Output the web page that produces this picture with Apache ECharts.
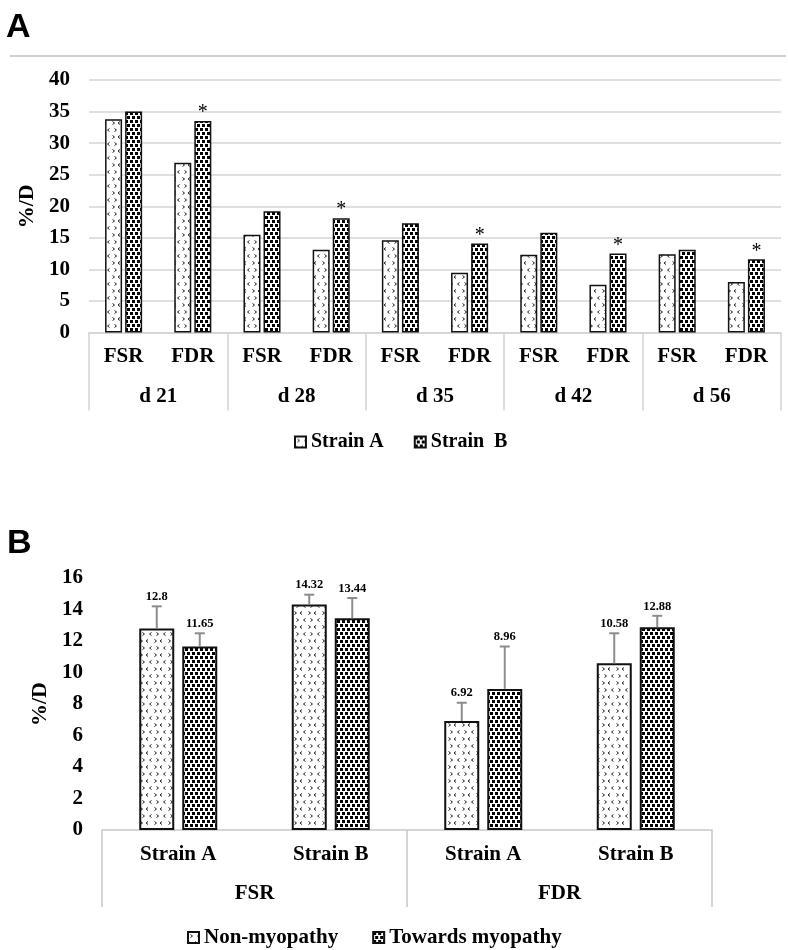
<!DOCTYPE html>
<html>
<head>
<meta charset="utf-8">
<script src="https://cdn.jsdelivr.net/npm/echarts@6/dist/echarts.min.js"></script>
<style>
html,body{margin:0;padding:0;background:#fff;}
#chart{width:788px;height:950px;}
</style>
</head>
<body>
<div id="chart"></div>
<script>
// ---------- Data: panel A ----------
const daysA = ['d 21', 'd 28', 'd 35', 'd 42', 'd 56'];
const ratesA = ['FSR', 'FDR'];
const strainA = [33.8, 26.9, 15.5, 13.1, 14.6, 9.45, 12.3, 7.55, 12.4, 8.0];
const strainB = [35.0, 33.5, 19.2, 18.1, 17.3, 14.1, 15.8, 12.5, 13.1, 11.6];
const sigB = [0, 1, 0, 1, 0, 1, 0, 1, 0, 1];
const seriesNamesA = ['Strain A', 'Strain  B'];
const yTicksA = { min: 0, max: 40, interval: 5 };

// ---------- Data: panel B ----------
const groupsB = ['FSR', 'FDR'];
const strainsB = ['Strain A', 'Strain B'];
const nonMyo = [12.8, 14.32, 6.92, 10.58];
const nonMyoSD = [1.4, 0.62, 1.16, 1.91];
const towMyo = [11.65, 13.44, 8.96, 12.88];
const towMyoSD = [0.84, 1.29, 2.69, 0.72];
const seriesNamesB = ['Non-myopathy', 'Towards myopathy'];
const yTicksB = { min: 0, max: 16, interval: 2 };

// ---------- Patterns ----------
function patternChevron() {
  const W = 14, H = 14;
  const c = document.createElement('canvas'); c.width = W; c.height = H;
  const g = c.getContext('2d');
  g.fillStyle = '#fff'; g.fillRect(0, 0, W, H);
  g.strokeStyle = '#222'; g.lineWidth = 1;
  function chev(x, y, dir) {
    g.beginPath();
    if (dir > 0) { g.moveTo(x, y); g.lineTo(x + 2, y + 1.5); g.lineTo(x, y + 3); }
    else { g.moveTo(x + 2, y); g.lineTo(x, y + 1.5); g.lineTo(x + 2, y + 3); }
    g.stroke();
  }
  chev(2.5, 2.5, 1); chev(9.5, 2.5, -1); chev(6, 9.5, -1); chev(0.5, 9.5, 1);
  return { image: c, repeat: 'repeat' };
}
function patternSquares() {
  const c = document.createElement('canvas'); c.width = 10; c.height = 8;
  const g = c.getContext('2d');
  g.fillStyle = '#fff'; g.fillRect(0, 0, 10, 8);
  g.fillStyle = '#000';
  g.fillRect(0, 0, 3, 3); g.fillRect(5, 0, 3, 3); g.fillRect(2, 4, 3, 3); g.fillRect(7, 4, 3, 3);
  return { image: c, repeat: 'repeat' };
}
const patA = patternChevron();
const patB = patternSquares();

// ---------- Build categories ----------
const catsA = [];
daysA.forEach(() => ratesA.forEach(r => catsA.push(r)));
const catsB = [];
groupsB.forEach(() => strainsB.forEach(s => catsB.push(s)));

const SERIF = '"Liberation Serif", "Times New Roman", serif';
const gridLine = '#d4d4d4';
const barWB = 35, gapB = 8;

function errSeries(name, vals, sds, side) {
  return {
    type: 'custom', name: name + ' err', xAxisIndex: 2, yAxisIndex: 1, z: 5,
    data: vals.map((v, i) => [i, v, sds[i]]),
    renderItem: function (params, api) {
      const i = api.value(0), v = api.value(1), sd = api.value(2);
      const base = api.coord([i, v]);
      const top = api.coord([i, v + sd]);
      const x = base[0] + side * (barWB + gapB) / 2;
      return {
        type: 'group',
        children: [
          { type: 'line', shape: { x1: x, y1: base[1], x2: x, y2: top[1] }, style: { stroke: '#8c8c8c', lineWidth: 2 } },
          { type: 'line', shape: { x1: x - 5, y1: top[1], x2: x + 5, y2: top[1] }, style: { stroke: '#8c8c8c', lineWidth: 2 } },
          { type: 'text', x: x, y: top[1] - 3, style: { text: String(v), fontFamily: SERIF, fontWeight: 'bold', fontSize: 12.5, fill: '#000', align: 'center', verticalAlign: 'bottom' } }
        ]
      };
    }
  };
}

const chart = echarts.init(document.getElementById('chart'), null, { renderer: 'canvas' });
chart.setOption({
  animation: false,
  backgroundColor: '#fff',
  textStyle: { fontFamily: SERIF },
  graphic: [
    { type: 'line', shape: { x1: 10, y1: 56, x2: 786, y2: 56 }, style: { stroke: '#d0d0d0', lineWidth: 2 } },
    { type: 'text', left: 6, top: 11, style: { text: 'A', font: 'bold 34px "Liberation Sans", Arial, sans-serif', fill: '#000' } },
    { type: 'text', left: 7, top: 527, style: { text: 'B', font: 'bold 34px "Liberation Sans", Arial, sans-serif', fill: '#000' } }
  ],
  legend: [
    {
      data: seriesNamesA, left: 289, top: 427, itemWidth: 11, itemHeight: 11, itemGap: 30, icon: 'rect',
      textStyle: { fontFamily: SERIF, fontWeight: 'bold', fontSize: 20, color: '#000' }
    },
    {
      data: seriesNamesB, left: 182, top: 922, itemWidth: 11, itemHeight: 11, itemGap: 34, icon: 'rect',
      textStyle: { fontFamily: SERIF, fontWeight: 'bold', fontSize: 21, color: '#000' }
    }
  ],
  grid: [
    { left: 89, top: 80, width: 692, height: 252.5 },
    { left: 102, top: 578, width: 610, height: 252 }
  ],
  xAxis: [
    {
      gridIndex: 0, type: 'category', data: catsA,
      axisLine: { lineStyle: { color: gridLine, width: 1.5 } }, axisTick: { show: false },
      axisLabel: { interval: 0, margin: 14, color: '#000', fontFamily: SERIF, fontWeight: 'bold', fontSize: 21 }
    },
    {
      gridIndex: 0, type: 'category', data: daysA, position: 'bottom',
      axisLine: { show: false },
      axisTick: { show: true, interval: 0, length: 78, lineStyle: { color: gridLine, width: 1.5 } },
      axisLabel: { interval: 0, margin: 54, color: '#000', fontFamily: SERIF, fontWeight: 'bold', fontSize: 21 }
    },
    {
      gridIndex: 1, type: 'category', data: catsB,
      axisLine: { lineStyle: { color: '#c8c8c8', width: 1.5 } }, axisTick: { show: false },
      axisLabel: { interval: 0, margin: 14, color: '#000', fontFamily: SERIF, fontWeight: 'bold', fontSize: 21 }
    },
    {
      gridIndex: 1, type: 'category', data: groupsB, position: 'bottom',
      axisLine: { show: false },
      axisTick: { show: true, interval: 0, length: 77, lineStyle: { color: '#c8c8c8', width: 1.5 } },
      axisLabel: { interval: 0, margin: 53, color: '#000', fontFamily: SERIF, fontWeight: 'bold', fontSize: 21 }
    }
  ],
  yAxis: [
    {
      gridIndex: 0, type: 'value', min: yTicksA.min, max: yTicksA.max, interval: yTicksA.interval,
      name: '%/D', nameLocation: 'middle', nameGap: 48,
      nameTextStyle: { fontFamily: SERIF, fontWeight: 'bold', fontSize: 22, color: '#000' },
      axisLine: { show: false }, axisTick: { show: false },
      splitLine: { lineStyle: { color: gridLine, width: 1.5 } },
      axisLabel: { margin: 19, color: '#000', fontFamily: SERIF, fontWeight: 'bold', fontSize: 21 }
    },
    {
      gridIndex: 1, type: 'value', min: yTicksB.min, max: yTicksB.max, interval: yTicksB.interval,
      name: '%/D', nameLocation: 'middle', nameGap: 48,
      nameTextStyle: { fontFamily: SERIF, fontWeight: 'bold', fontSize: 22, color: '#000' },
      axisLine: { show: false }, axisTick: { show: false }, splitLine: { show: false },
      axisLabel: { margin: 19, color: '#000', fontFamily: SERIF, fontWeight: 'bold', fontSize: 21 }
    }
  ],
  series: [
    {
      type: 'bar', name: seriesNamesA[0], xAxisIndex: 0, yAxisIndex: 0, data: strainA,
      barWidth: 17, barGap: '18%',
      itemStyle: { color: patA, borderColor: '#111', borderWidth: 1.5 }
    },
    {
      type: 'bar', name: seriesNamesA[1], xAxisIndex: 0, yAxisIndex: 0, data: strainB,
      barWidth: 17, barGap: '18%',
      itemStyle: { color: patB, borderColor: '#111', borderWidth: 1.5 },
      label: {
        show: true, position: 'top', distance: -2,
        formatter: p => sigB[p.dataIndex] ? '*' : '',
        fontFamily: SERIF, fontSize: 20, color: '#000'
      }
    },
    {
      type: 'bar', name: seriesNamesB[0], xAxisIndex: 2, yAxisIndex: 1, data: nonMyo,
      barWidth: barWB, barGap: (gapB / barWB * 100) + '%',
      itemStyle: { color: patA, borderColor: '#111', borderWidth: 2 }
    },
    {
      type: 'bar', name: seriesNamesB[1], xAxisIndex: 2, yAxisIndex: 1, data: towMyo,
      barWidth: barWB, barGap: (gapB / barWB * 100) + '%',
      itemStyle: { color: patB, borderColor: '#111', borderWidth: 2 }
    },
    errSeries(seriesNamesB[0], nonMyo, nonMyoSD, -1),
    errSeries(seriesNamesB[1], towMyo, towMyoSD, 1)
  ]
});
</script>
</body>
</html>
